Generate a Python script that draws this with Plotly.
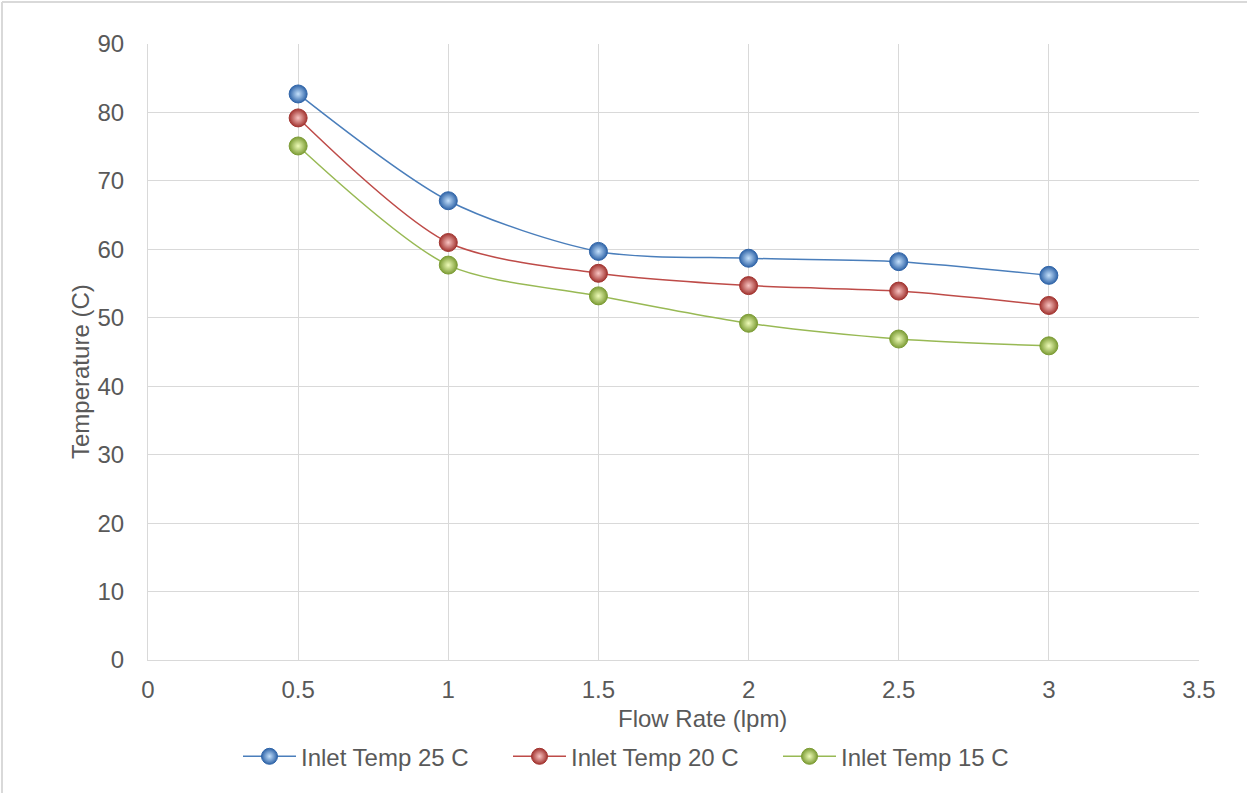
import plotly.graph_objects as go

flow_rate = [0.5, 1, 1.5, 2, 2.5, 3]
inlet_25 = [82.7, 67.1, 59.7, 58.7, 58.2, 56.2]
inlet_20 = [79.2, 61.0, 56.5, 54.7, 53.9, 51.8]
inlet_15 = [75.1, 57.7, 53.2, 49.2, 46.9, 45.9]

series = [
    ("Inlet Temp 25 C", inlet_25, "#4a7ebb", "#c4e0fb", "#2f64a8"),
    ("Inlet Temp 20 C", inlet_20, "#be4b48", "#f8c4c2", "#a23430"),
    ("Inlet Temp 15 C", inlet_15, "#98b954", "#eefbb8", "#7c9c35"),
]

fig = go.Figure()
for name, vals, line_col, light, dark in series:
    fig.add_trace(go.Scatter(
        x=flow_rate, y=vals, name=name, mode="lines+markers",
        line=dict(color=line_col, width=1.5, shape="spline", smoothing=0.8),
        marker=dict(size=18, color=dark,
                    gradient=dict(type="radial", color=light),
                    line=dict(color=dark, width=1)),
    ))

W, H = 1247, 793
ml, mr, mt, mb = 148, 48, 44, 133
pw, ph = W - ml - mr, H - mt - mb
grey = "#595959"
grid = "#d9d9d9"
fsize = 24

fig.update_layout(
    width=W, height=H,
    margin=dict(l=ml, r=mr, t=mt, b=mb),
    paper_bgcolor="white", plot_bgcolor="white",
    font=dict(family="Liberation Sans, Arial, sans-serif", size=fsize, color=grey),
    showlegend=True,
    legend=dict(orientation="h", x=(238 - ml) / pw, xanchor="left",
                y=-0.157, yanchor="middle",
                font=dict(size=fsize, color=grey), itemwidth=53,
                entrywidth=202, entrywidthmode="pixels"),
    xaxis=dict(range=[0, 3.5], tickvals=[0, 0.5, 1, 1.5, 2, 2.5, 3, 3.5],
               ticktext=["0", "0.5", "1", "1.5", "2", "2.5", "3", "3.5"],
               showgrid=True, gridcolor=grid, gridwidth=1,
               zeroline=False, showline=True, linecolor=grid, linewidth=1,
               ticks="", ticklabelstandoff=8, tickfont=dict(size=fsize, color=grey)),
    yaxis=dict(range=[0, 90], dtick=10,
               showgrid=True, gridcolor=grid, gridwidth=1,
               zeroline=False, showline=True, linecolor=grid, linewidth=1,
               ticks="", ticklabelstandoff=18, tickfont=dict(size=fsize, color=grey)),
    annotations=[
        dict(text="Flow Rate (lpm)", xref="paper", yref="paper",
             x=(702 - ml) / pw, y=-(718 - mt - ph) / ph,
             xanchor="center", yanchor="middle", showarrow=False,
             font=dict(size=fsize, color=grey)),
        dict(text="Temperature (C)", xref="paper", yref="paper", textangle=-90,
             x=(80 - ml) / pw, y=(mt + ph - 372) / ph,
             xanchor="center", yanchor="middle", showarrow=False,
             font=dict(size=fsize, color=grey)),
    ],
    shapes=[
        dict(type="line", xref="paper", yref="paper",
             x0=(2 - ml) / pw, x1=(2 - ml) / pw,
             y0=-(H - mt - ph) / ph, y1=(ph + mt - 2) / ph,
             line=dict(color=grid, width=2), layer="below"),
        dict(type="line", xref="paper", yref="paper",
             x0=(2 - ml) / pw, x1=(W - ml) / pw,
             y0=(ph + mt - 2) / ph, y1=(ph + mt - 2) / ph,
             line=dict(color=grid, width=2), layer="below"),
    ],
)

fig.write_html("out.html")
